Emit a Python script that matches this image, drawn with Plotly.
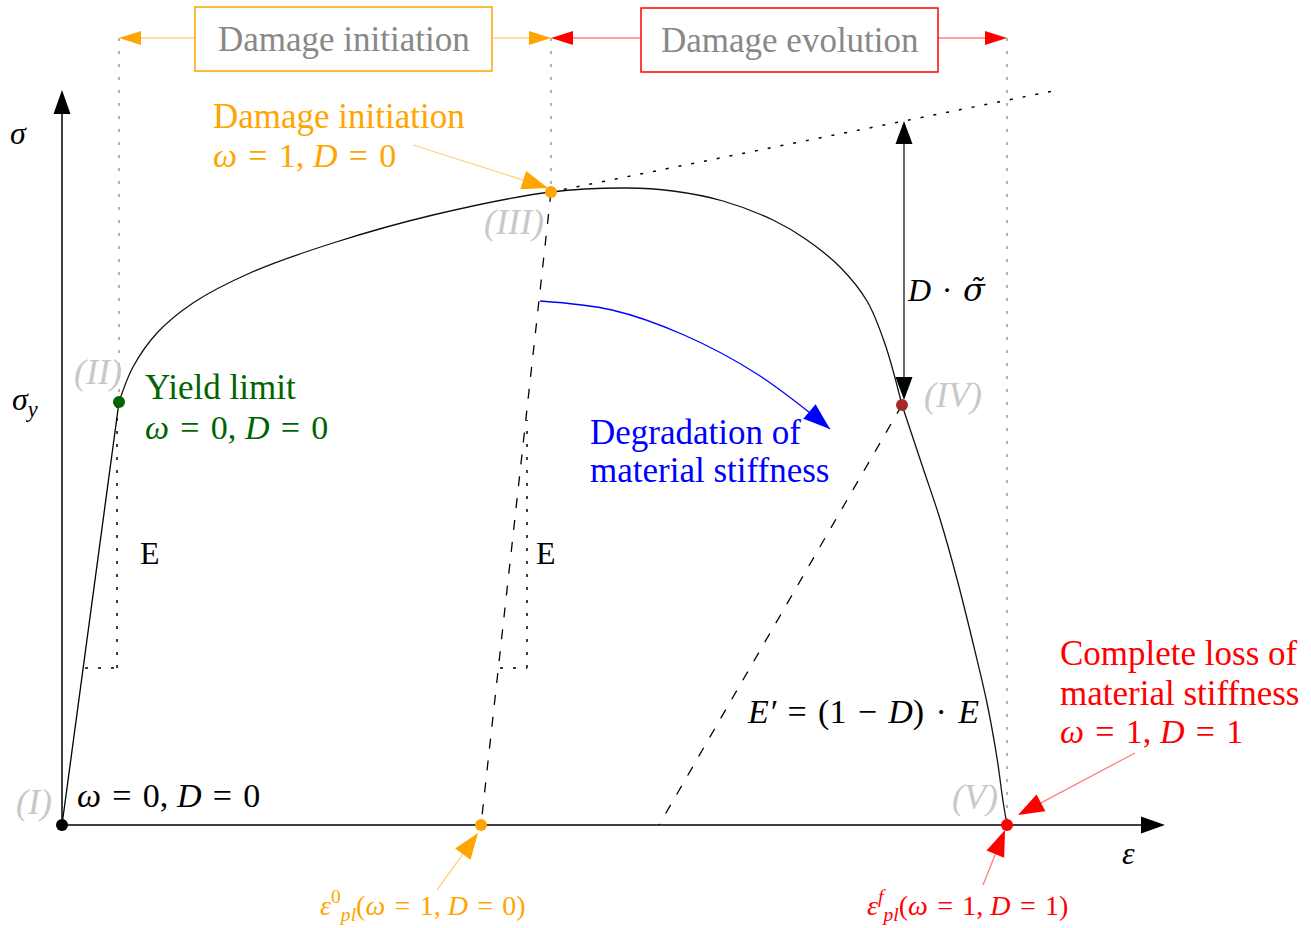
import math
import plotly.graph_objects as go

# ---------------------------------------------------------------
# Stress-strain diagram with ductile damage (strain units / stress units)
# ---------------------------------------------------------------

# elastic branch O -> yield point (II)
elastic_eps = [0.0, 0.57]
elastic_sig = [0.0, 4.23]

# hardening branch (II) -> (III) -> (IV)
hard_eps = [0.57, 0.71, 0.95, 1.31, 1.88, 2.71, 3.71, 4.89, 5.65, 6.11, 6.61, 7.11,
            7.45, 7.78, 8.05, 8.23, 8.40]
hard_sig = [4.23, 4.58, 4.92, 5.22, 5.52, 5.82, 6.10, 6.33, 6.37, 6.34, 6.24, 6.05,
            5.85, 5.58, 5.24, 4.81, 4.20]

# softening branch (IV) -> (V)
soft_eps = [8.40, 8.61, 8.78, 8.95, 9.11, 9.25, 9.35, 9.41, 9.45]
soft_sig = [4.20, 3.57, 3.06, 2.46, 1.82, 1.22, 0.67, 0.24, 0.0]

# characteristic points (I) .. (V) and the plastic strain at damage initiation
point_names = ["I", "II", "III", "IV", "V", "eps_pl0"]
point_eps = [0.0, 0.57, 4.89, 8.40, 9.45, 4.19]
point_sig = [0.0, 4.23, 6.33, 4.20, 0.0, 0.0]
point_colors = ["#000000", "#006400", "#FFA500", "#A52A2A", "#FF0000", "#FFA500"]

# undamaged (extrapolated) hardening line beyond (III)
tangent_eps = [4.89, 9.96]
tangent_sig = [6.33, 7.35]

# unloading lines: stiffness E at (III), reduced stiffness E' at (IV)
unload3_eps = [4.89, 4.19]
unload3_sig = [6.33, 0.0]
unload4_eps = [8.40, 5.97]
unload4_sig = [4.20, 0.0]

# slope triangles marking E
tri1_eps = [0.23, 0.55, 0.55]
tri1_sig = [1.57, 1.57, 4.18]
tri2_eps = [4.38, 4.65, 4.65]
tri2_sig = [1.57, 1.57, 4.05]

# stiffness degradation arrow
degr_eps = [4.78, 5.50, 6.22, 6.95, 7.68]
degr_sig = [5.24, 5.15, 4.90, 4.51, 3.96]

# axis extents
eps_axis_end = 11.03
sig_axis_end = 7.35

# level of the range bar at the top
bar_sig = 7.87

SERIF = "Liberation Serif"
SP = "\u2004"          # wider space around relations, as in typeset math
DOT = "3px,10px"
DASH = "10px,12px"

fig = go.Figure()
shapes = []


def seg(x0, y0, x1, y1, color="#000", width=1.3, dash="solid"):
    shapes.append(dict(type="line", xref="x", yref="y", x0=x0, y0=y0, x1=x1, y1=y1,
                       line=dict(color=color, width=width, dash=dash), layer="below"))


def head(tip, tail, color, length=0.23, width=0.17):
    tx, ty = tip
    dx, dy = tip[0] - tail[0], tip[1] - tail[1]
    n = math.hypot(dx, dy)
    ux, uy = dx / n, dy / n
    bx, by = tx - ux * length, ty - uy * length
    px, py = -uy * width / 2, ux * width / 2
    path = f"M {tx},{ty} L {bx + px},{by + py} L {bx - px},{by - py} Z"
    shapes.append(dict(type="path", xref="x", yref="y", path=path,
                       fillcolor=color, line=dict(width=0), layer="above"))
    return bx, by


def arrow(tail, tip, line_color, head_color, width=1.3, length=0.23, hw=0.17):
    bx, by = head(tip, tail, head_color, length, hw)
    seg(tail[0], tail[1], bx, by, line_color, width)


def math_txt(s):
    return s.replace(" = ", SP + "=" + SP).replace(" − ", SP + "−" + SP)


# ---- axes ----
arrow((0, 0), (eps_axis_end, 0), "#000", "#000", 1.5, 0.24, 0.17)
arrow((0, 0), (0, sig_axis_end), "#000", "#000", 1.5, 0.24, 0.17)

# ---- guide lines ----
for i in (1, 2, 4):
    seg(point_eps[i], bar_sig, point_eps[i], point_sig[i], "#999999", 1.5, DOT)

seg(tangent_eps[0], tangent_sig[0], tangent_eps[1], tangent_sig[1], "#000", 1.5, DOT)
seg(unload3_eps[0], unload3_sig[0], unload3_eps[1], unload3_sig[1], "#000", 1.3, DASH)
seg(unload4_eps[0], unload4_sig[0], unload4_eps[1], unload4_sig[1], "#000", 1.3, DASH)

for tx, ty in ((tri1_eps, tri1_sig), (tri2_eps, tri2_sig)):
    seg(tx[0], ty[0], tx[1], ty[1], "#000", 1.5, DOT)
    seg(tx[1], ty[1], tx[2], ty[2], "#000", 1.5, DOT)

# ---- D * sigma~ double arrow ----
d_x = point_eps[3] + 0.02
slope = (tangent_sig[1] - tangent_sig[0]) / (tangent_eps[1] - tangent_eps[0])
d_top = tangent_sig[0] + slope * (d_x - tangent_eps[0])
b1 = head((d_x, d_top), (d_x, point_sig[3]), "#000", 0.23, 0.17)
b2 = head((d_x, point_sig[3] + 0.05), (d_x, d_top), "#000", 0.23, 0.17)
seg(d_x, b1[1], d_x, b2[1], "#444444", 1.6)

# ---- range bar at the top ----
box_ini = (1.33, 4.30, 7.54, 8.18)
box_evo = (5.79, 8.76, 7.53, 8.17)
arrow((box_ini[0], bar_sig), (point_eps[1], bar_sig), "#FFD27F", "#FFA500", 1.3, 0.22, 0.14)
arrow((box_ini[1], bar_sig), (point_eps[2], bar_sig), "#FFD27F", "#FFA500", 1.3, 0.22, 0.14)
arrow((box_evo[0], bar_sig), (point_eps[2], bar_sig), "#FF8080", "#FF0000", 1.3, 0.22, 0.14)
arrow((box_evo[1], bar_sig), (point_eps[4], bar_sig), "#FF8080", "#FF0000", 1.3, 0.22, 0.14)
for (x0, x1, y0, y1), col in ((box_ini, "#FFA500"), (box_evo, "#FF0000")):
    shapes.append(dict(type="rect", xref="x", yref="y", x0=x0, x1=x1, y0=y0, y1=y1,
                       line=dict(color=col, width=1.5), fillcolor="white", layer="above"))

# ---- annotation arrows ----
arrow((3.51, 6.80), (point_eps[2] - 0.03, point_sig[2] + 0.04), "#FFD27F", "#FFA500", 1.3, 0.26, 0.19)
arrow((3.75, -0.65), (point_eps[5] - 0.03, -0.08), "#FFD27F", "#FFA500", 1.3, 0.26, 0.19)
arrow((10.73, 0.72), (point_eps[4] + 0.11, 0.10), "#FF8080", "#FF0000", 1.3, 0.26, 0.19)
arrow((9.21, -0.60), (point_eps[4] - 0.02, -0.05), "#FF8080", "#FF0000", 1.3, 0.26, 0.19)

# stiffness degradation arrow (curved)
fig.add_trace(go.Scatter(x=degr_eps, y=degr_sig, mode="lines",
                         line=dict(color="#0000FF", width=1.3, shape="spline", smoothing=1.0),
                         hoverinfo="skip"))
head((degr_eps[-1], degr_sig[-1]), (7.28, 4.30), "#0000FF", 0.27, 0.19)

# ---- material curve ----
fig.add_trace(go.Scatter(x=elastic_eps, y=elastic_sig, mode="lines",
                         line=dict(color="#000", width=1.3), hoverinfo="skip"))
for xs, ys in ((hard_eps, hard_sig), (soft_eps, soft_sig)):
    fig.add_trace(go.Scatter(x=xs, y=ys, mode="lines",
                             line=dict(color="#111", width=1.3, shape="spline", smoothing=1.0),
                             hoverinfo="skip"))

# ---- characteristic points ----
fig.add_trace(go.Scatter(x=point_eps, y=point_sig, mode="markers",
                         marker=dict(color=point_colors, size=12, line=dict(width=0)),
                         text=point_names, hoverinfo="text"))

# ---- text ----
ann = []


def label(x, y, text, color="#000", size=35, xanchor="center", yanchor="middle"):
    ann.append(dict(x=x, y=y, xref="x", yref="y", text=text, showarrow=False,
                    xanchor=xanchor, yanchor=yanchor,
                    font=dict(family=SERIF, size=size, color=color)))


label(-0.44, 6.92, "<i>σ</i>", size=32)
label(-0.37, 4.24, "<i>σ<sub>y</sub></i>", size=32)
label(10.66, -0.28, "<i>ε</i>", size=32)

roman_gray = "#C8C8C8"
label(-0.28, 0.23, "<i>(I)</i>", roman_gray, 36)
label(0.36, 4.53, "<i>(II)</i>", roman_gray, 36)
label(4.52, 6.03, "<i>(III)</i>", roman_gray, 36)
label(8.91, 4.30, "<i>(IV)</i>", roman_gray, 36)
label(9.13, 0.28, "<i>(V)</i>", roman_gray, 36)

label(0.13, 0.30, math_txt("<i>ω</i> = 0, <i>D</i> = 0"), size=34, xanchor="left")
label(0.81, 4.38, "Yield limit", "#006400", xanchor="left")
label(0.81, 3.98, math_txt("<i>ω</i> = 0, <i>D</i> = 0"), "#006400", 34, xanchor="left")
label(0.88, 2.72, "E", size=32)
label(4.84, 2.72, "E", size=32)

label(1.49, 7.09, "Damage initiation", "#FFA500", xanchor="left")
label(1.49, 6.70, math_txt("<i>ω</i> = 1, <i>D</i> = 0"), "#FFA500", 34, xanchor="left")

label(2.815, 7.86, "Damage initiation", "#888888")
label(7.275, 7.85, "Damage evolution", "#888888")

label(8.43, 5.35,
      "<i>D</i>" + SP + "·" + SP + "<span style='font-family:DejaVu Serif'><i>σ\u0303</i></span>",
      size=32, xanchor="left")
label(5.26, 3.93, "Degradation of", "#0000FF", xanchor="left")
label(5.26, 3.55, "material stiffness", "#0000FF", xanchor="left")
label(6.83, 1.13, math_txt("<i>E′</i> = (1 − <i>D</i>)" + SP + "·" + SP + "<i>E</i>"),
      size=34, xanchor="left")

label(9.96, 1.72, "Complete loss of", "#FF0000", xanchor="left")
label(9.96, 1.32, "material stiffness", "#FF0000", xanchor="left")
label(9.96, 0.94, math_txt("<i>ω</i> = 1, <i>D</i> = 1"), "#FF0000", 34, xanchor="left")

label(3.61, -0.80, math_txt("<i>ε</i><sup>0</sup><sub><i>pl</i></sub>(<i>ω</i> = 1, <i>D</i> = 0)"),
      "#FFA500", 28)
label(9.05, -0.80, math_txt("<i>ε</i><sup><i>f</i></sup><sub><i>pl</i></sub>(<i>ω</i> = 1, <i>D</i> = 1)"),
      "#FF0000", 28)

fig.update_layout(
    width=1311, height=928,
    margin=dict(l=0, r=0, t=0, b=0),
    paper_bgcolor="white", plot_bgcolor="white",
    showlegend=False,
    xaxis=dict(range=[-0.62, 12.49], visible=False, fixedrange=True),
    yaxis=dict(range=[-1.03, 8.25], visible=False, fixedrange=True),
    shapes=shapes,
    annotations=ann,
)

fig.write_html("out.html", config=dict(displayModeBar=False))
